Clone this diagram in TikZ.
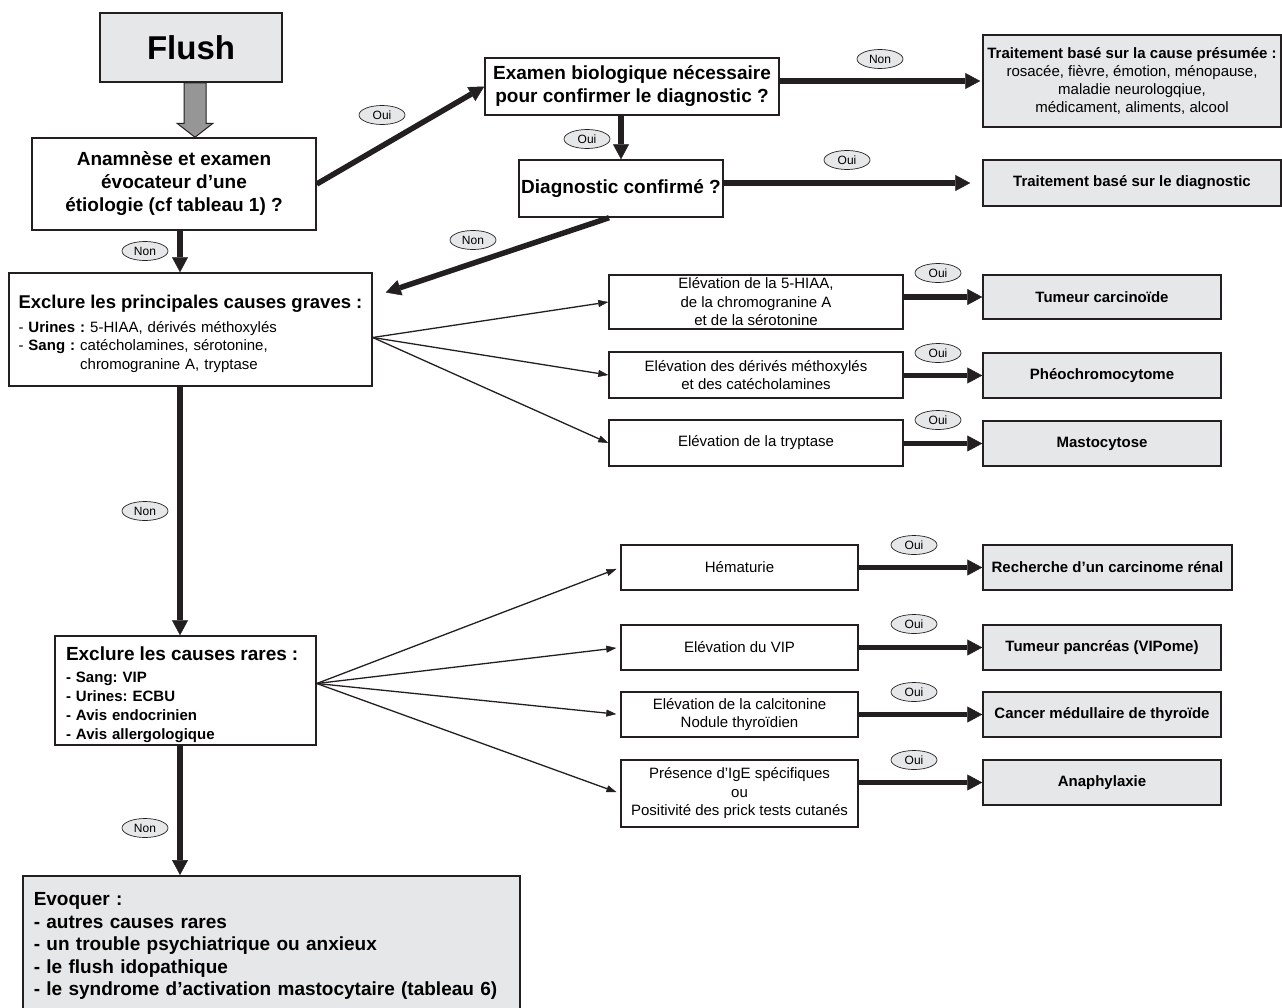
\documentclass[tikz,border=0pt]{standalone}
\usepackage{fontspec}
\setmainfont{Liberation Sans}
\usetikzlibrary{arrows.meta,shapes.geometric,calc}
\definecolor{boxgray}{RGB}{230,231,232}
\definecolor{inkgray}{RGB}{35,31,32}
\definecolor{arrowgray}{RGB}{150,150,150}
\frenchspacing

\begin{document}
\begin{tikzpicture}[x=1pt, y=-1pt,
  box/.style={draw=inkgray, line width=1.5pt, align=center, inner sep=0pt, font=\fontsize{15}{18.5}\selectfont},
  qbox/.style={box, font=\fontsize{19}{23}\selectfont\bfseries},
  resbox/.style={box, fill=boxgray, font=\fontsize{15}{18.5}\selectfont\bfseries},
  listbox/.style={box, align=left, inner xsep=11pt},
  tag/.style={ellipse, draw=inkgray, line width=0.7pt, fill=boxgray, minimum width=46pt, minimum height=19pt, inner sep=0pt, font=\fontsize{12}{13}\selectfont},
  big/.style={draw=inkgray, line width=5.5pt, -{Triangle[length=15pt,width=16pt,line width=0.5pt]}},
  fan/.style={draw=inkgray, line width=1.3pt, -{Triangle[length=10pt,width=7pt,line width=0.5pt]}}]
\def\colb{756}
\def\colc{1102}
\useasboundingbox (0, 0) rectangle (1282, 1007);
\clip (0, 0) rectangle (1282, 1007);
%top
\node[box, fill=boxgray, minimum width=182pt, minimum height=69pt, font=\fontsize{33}{36}\selectfont\bfseries] (flush) at (191, 47.5) {Flush};
\node[qbox, minimum width=284pt, minimum height=92pt] (anam) at (174, 184) {Anamnèse et examen\\évocateur d’une\\étiologie (cf tableau 1) ?};
\node[qbox, minimum width=294pt, minimum height=57pt] (exam) at (632, 86.5) {Examen biologique nécessaire\\pour confirmer le diagnostic ?};
\node[qbox, minimum width=204pt, minimum height=57pt] (diag) at (621, 188.5) {Diagnostic confirmé ?};
\node[resbox, minimum width=298pt, minimum height=92pt, font=\fontsize{15}{18}\selectfont] (tcause) at (1132, 81) {\textbf{Traitement basé sur la cause présumée :}\\rosacée, fièvre, émotion, ménopause,\\maladie neurologqiue,\\médicament, aliments, alcool};
\node[resbox, minimum width=298pt, minimum height=46pt] (tdiag) at (1132, 183) {Traitement basé sur le diagnostic};
%left column
\node[listbox, inner xsep=9.5pt, text width=344pt, minimum height=113pt] (exgrav) at (190.5, 329.5) {{\fontsize{18.5}{23}\selectfont\bfseries\rule{0pt}{22pt}Exclure les principales causes graves :}\\[5pt]- \textbf{Urines :} 5-HIAA, dérivés méthoxylés\\- \textbf{Sang :} catécholamines, sérotonine,\\\phantom{- \textbf{Sang :} }chromogranine A, tryptase};
\node[listbox, text width=239pt, minimum height=109pt, font=\fontsize{15}{19}\selectfont\bfseries] (exrare) at (185.5, 690.5) {{\fontsize{19}{23}\selectfont\rule{0pt}{23pt}Exclure les causes rares :}\\[3pt]- Sang: VIP\\- Urines: ECBU\\- Avis endocrinien\\- Avis allergologique};
\node[listbox, fill=boxgray, text width=475pt, anchor=north west, inner ysep=17pt, font=\fontsize{19}{22.5}\selectfont\bfseries] (evoq) at (22, 875) {Evoquer :\\- autres causes rares\\- un trouble psychiatrique ou anxieux\\- le flush idopathique\\- le syndrome d’activation mastocytaire (tableau 6)\\\mbox{}};
%causes graves
\node[box, minimum width=294pt, minimum height=54pt] (e5hiaa) at (\colb, 302) {Elévation de la 5-HIAA,\\de la chromogranine A\\et de la sérotonine};
\node[box, minimum width=294pt, minimum height=46pt] (ederiv) at (\colb, 375) {Elévation des dérivés méthoxylés\\et des catécholamines};
\node[box, minimum width=294pt, minimum height=46pt] (etrypt) at (\colb, 443) {Elévation de la tryptase};
\node[resbox, minimum width=238pt, minimum height=44pt] (tcarc) at (\colc, 297) {Tumeur carcinoïde};
\node[resbox, minimum width=238pt, minimum height=45pt] (pheo) at (\colc, 375.5) {Phéochromocytome};
\node[resbox, minimum width=238pt, minimum height=45pt] (masto) at (\colc, 443.5) {Mastocytose};
%causes rares
\node[box, minimum width=237pt, minimum height=45pt] (hemat) at (739.5, 567.5) {Hématurie};
\node[box, minimum width=237pt, minimum height=45pt] (evip) at (739.5, 647.5) {Elévation du VIP};
\node[box, minimum width=237pt, minimum height=45pt] (ecalc) at (739.5, 714.5) {Elévation de la calcitonine\\Nodule thyroïdien};
\node[box, minimum width=237pt, minimum height=67pt] (eige) at (739.5, 793.5) {Présence d’IgE spécifiques\\ou\\Positivité des prick tests cutanés};
\node[resbox, minimum width=249pt, minimum height=45pt] (rcarc) at (1107.5, 567.5) {Recherche d’un carcinome rénal};
\node[resbox, minimum width=238pt, minimum height=45pt] (tpanc) at (\colc, 647.5) {Tumeur pancréas (VIPome)};
\node[resbox, minimum width=238pt, minimum height=45pt] (cmed) at (\colc, 714.5) {Cancer médullaire de thyroïde};
\node[resbox, minimum width=238pt, minimum height=45pt] (anaph) at (\colc, 782.5) {Anaphylaxie};
%flush arrow
\coordinate (ga) at ($(flush.south)+(4, 0)$);
\coordinate (gb) at (anam.north -| ga);
\draw[draw=inkgray, fill=arrowgray, line width=1pt] ($(ga)+(-11, 0)$) -- ($(gb)+(-11, -14)$) -- ($(gb)+(-18, -14)$) -- (gb) -- ($(gb)+(18, -14)$) -- ($(gb)+(11, -14)$) -- ($(ga)+(11, 0)$) -- cycle;
%arrows top
\draw[big] (anam.east) -- (exam.west);
\draw[big, shorten >=2pt] (exam.east |- tcause.west) -- (tcause.west);
\draw[big] (exam.south -| diag.north) -- (diag.north);
\draw[big, shorten >=12pt] (diag.east |- tdiag.west) -- (tdiag.west);
\draw[big] ($(diag.south)+(-12, 0)$) -- ($(exgrav.east)+(13, -37)$);
%arrows down
\coordinate (vx) at (180, 0);
\draw[big] (anam.south -| vx) -- (exgrav.north -| vx);
\draw[big] (exgrav.south -| vx) -- (exrare.north -| vx);
\draw[big] (exrare.south -| vx) -- (evoq.north -| vx);
%fans
\coordinate (fg) at ($(exgrav.east)+(0, 8)$);
\foreach \n in {e5hiaa, ederiv, etrypt} \draw[fan] (fg) -- (\n.west);
\coordinate (fr) at ($(exrare.east)+(0, -7)$);
\foreach \n in {hemat, evip, ecalc, eige} \draw[fan, shorten >=4pt] (fr) -- (\n.west);
%results
\foreach \a/\b in {e5hiaa/tcarc, ederiv/pheo, etrypt/masto, hemat/rcarc, evip/tpanc, ecalc/cmed, eige/anaph} \draw[big] (\a.east |- \b.west) -- (\b.west);
%label
\foreach \n/\p in {o1/{(382, 115)}, o2/{(587, 139)}, o3/{(847, 160)}, o4/{(938, 273)}, o5/{(938, 353)}, o6/{(938, 420)}, o7/{(914, 545)}, o8/{(914, 624)}, o9/{(914, 692)}, o10/{(914, 760)}} \node[tag] (\n) at \p {Oui};
\foreach \n/\p in {n1/{(880, 59)}, n2/{(473, 240)}, n3/{(145, 251)}, n4/{(145, 511)}, n5/{(145, 828)}} \node[tag] (\n) at \p {Non};
\end{tikzpicture}
\end{document}
